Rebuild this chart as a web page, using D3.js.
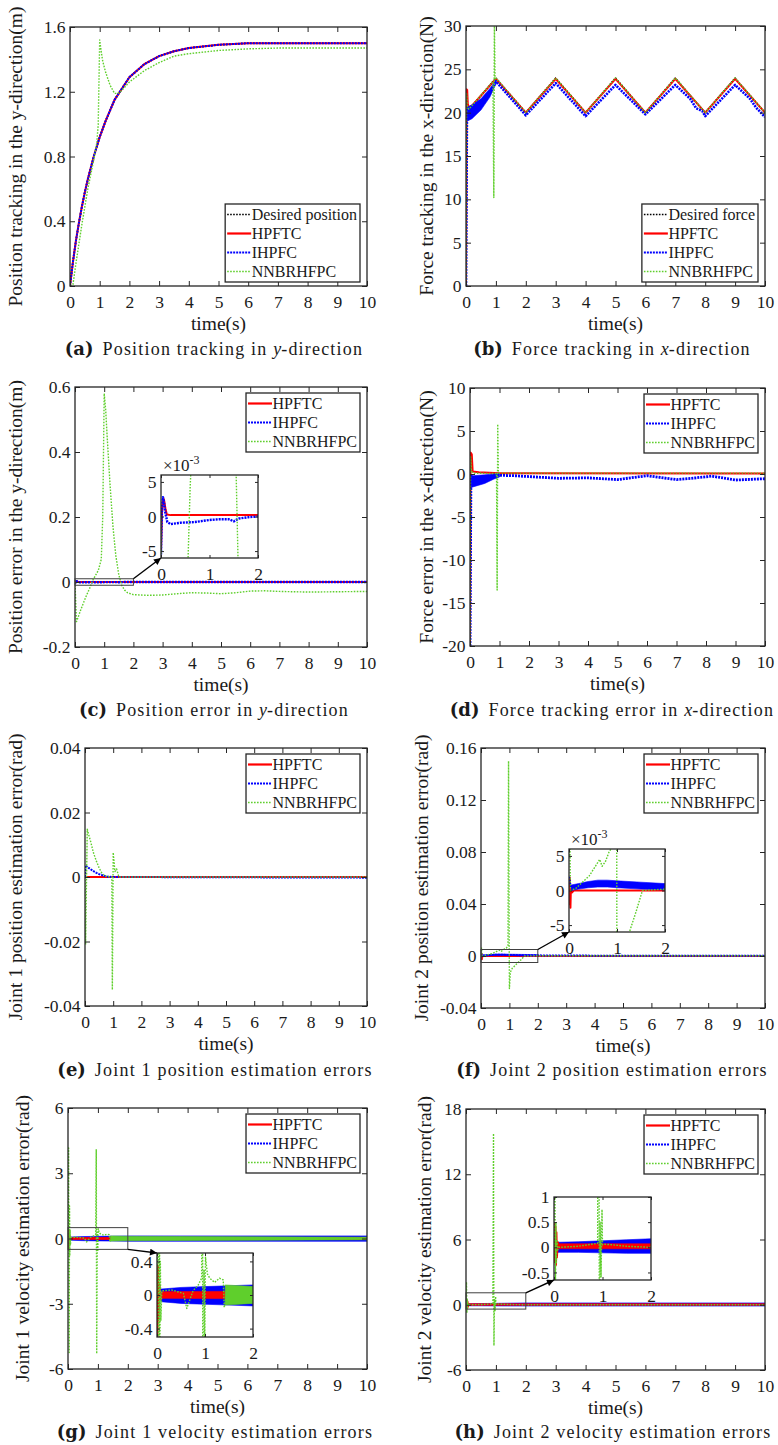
<!DOCTYPE html>
<html>
<head>
<meta charset="utf-8">
<script src="https://cdn.jsdelivr.net/npm/d3@7/dist/d3.min.js"></script>
<style>
body { margin: 0; background: #fff; }
svg { display: block; }
</style>
</head>
<body>
<svg id="fig" width="778" height="1445"></svg>
<script>
// ---- tick values / labels ----
var xTicks = [0,1,2,3,4,5,6,7,8,9,10];
var insetXTicks = [0,1,2];
var aYTicks = [0,0.4,0.8,1.2,1.6];
var bYTicks = [0,5,10,15,20,25,30];
var cYTicks = [-0.2,0,0.2,0.4,0.6];
var dYTicks = [-20,-15,-10,-5,0,5,10];
var eYTicks = [-0.04,-0.02,0,0.02,0.04];
var fYTicks = [-0.04,0,0.04,0.08,0.12,0.16];
var gYTicks = [-6,-3,0,3,6];
var hYTicks = [-6,0,6,12,18];
var milliTicks = [-0.005,0,0.005];
var milliLabels = ['-5','0','5'];
var gInsetTicks = [-0.4,0,0.4];
var hInsetTicks = [-0.5,0,0.5,1];

var legend4a = ['Desired position','HPFTC','IHPFC','NNBRHFPC'];
var legend4b = ['Desired force','HPFTC','IHPFC','NNBRHFPC'];
var legend3 = ['HPFTC','IHPFC','NNBRHFPC'];

// ---- (a) position tracking ----
var aT = [0,0.1,0.2,0.3,0.4,0.5,0.6,0.8,1,1.2,1.5,2,2.5,3,3.5,4,5,6,7,8,9,10];
var aDesired = [0,0.15,0.28,0.39,0.49,0.58,0.66,0.8,0.92,1.02,1.15,1.29,1.37,1.42,1.45,1.47,1.49,1.5,1.5,1.5,1.5,1.5];
var aHPFTC = [0,0.15,0.28,0.39,0.49,0.58,0.66,0.8,0.92,1.02,1.15,1.29,1.37,1.42,1.45,1.47,1.49,1.5,1.5,1.5,1.5,1.5];
var aIHPFC = [0,0.15,0.28,0.39,0.49,0.58,0.66,0.8,0.92,1.02,1.15,1.29,1.37,1.42,1.45,1.47,1.49,1.5,1.5,1.5,1.5,1.5];
var aNNT = [0,0.1,0.2,0.4,0.6,0.8,0.9,0.95,1,1.05,1.1,1.2,1.35,1.5,1.6,1.7,2,2.5,3,3.5,4,5,6,7,8,9,10];
var aNN = [0,0.01,0.14,0.38,0.6,0.78,0.88,1.0,1.52,1.45,1.39,1.32,1.24,1.19,1.19,1.2,1.26,1.33,1.38,1.42,1.435,1.455,1.465,1.47,1.47,1.47,1.47];

// ---- (b) force tracking ----
var bDesT = [0,0.01,1,2,3,4,5,6,7,8,9,10];
var bDes = [0,20,24,20,24,20,24,20,24,20,24,20];
var bRedT = [0,0.02,0.04,0.06,0.1,0.2,1,2,3,4,5,6,7,8,9,10];
var bRed = [0,22.7,22.6,21,20.6,20.8,23.9,20,23.9,20,23.9,20,23.9,20,23.9,20];
var bBlueT = [0,0.03,0.1,0.3,0.5,0.8,1,2,3,4,5,6,7,7.5,7.7,7.9,8,9,9.5,9.7,10];
var bBlue = [0,19.2,19.4,20.1,20.9,22.3,23.6,19.7,23.4,19.6,23.2,19.8,23.2,21.6,20.5,20.2,19.6,23.2,21.6,20.6,19.5];
var bBandT = [0.03,0.2,0.5,0.8,1];
var bBandHi = [20.6,20.9,21.6,22.8,23.7];
var bBandLo = [19,19.3,20.3,21.8,23.3];
var bNNT = [0,0.02,0.05,0.1,0.9,0.93,0.95,0.97,1,2,3,4,5,6,7,8,9,10];
var bNN = [0,22.2,20.6,20.4,23.6,10.2,30,23.8,24,20,24,20,24,20,24,20,24,20];

// ---- (c) position error ----
var cRedT = [0,0.02,0.04,0.06,0.09,0.12,0.2,2,10];
var cRed = [-0.005,0.0005,0.0022,0.0025,0.0012,0.0003,0.0002,0.0002,0.0002];
var cBlueT = [0,0.02,0.04,0.06,0.09,0.13,0.2,0.4,0.7,1,1.2,1.4,1.5,1.6,1.8,2,10];
var cBlue = [-0.0055,0.001,0.0028,0.0022,0.0005,-0.0008,-0.0011,-0.0009,-0.0008,-0.0005,-0.0004,-0.0004,-0.0007,-0.0003,-0.0001,0,0];
var cNNT = [0,0.05,0.1,0.2,0.3,0.4,0.5,0.6,0.7,0.8,0.9,0.95,1,1.05,1.1,1.2,1.3,1.4,1.5,1.6,1.7,1.8,2,2.5,3,3.5,4,4.5,5,5.5,6,6.5,7,8,9,10];
var cNN = [0,-0.122,-0.11,-0.085,-0.062,-0.04,-0.02,0.004,0.02,0.036,0.07,0.2,0.58,0.53,0.45,0.3,0.17,0.08,0.022,-0.01,-0.025,-0.033,-0.039,-0.041,-0.04,-0.036,-0.033,-0.034,-0.036,-0.033,-0.028,-0.027,-0.029,-0.031,-0.03,-0.029];

// ---- (d) force error ----
var dRedT = [0,0.02,0.06,0.09,0.3,1,10];
var dRed = [-20,2.5,2.3,0.3,0.2,0.1,0.05];
var dBlueT = [0,0.03,0.1,0.3,0.5,0.8,1,1.5,2,3,4,5,6,7,7.5,8.2,9,10];
var dBlue = [-20,-0.8,-0.85,-0.7,-0.6,-0.3,-0.15,-0.2,-0.3,-0.5,-0.45,-0.65,-0.2,-0.65,-0.5,-0.25,-0.7,-0.55];
var dBandT = [0.03,0.1,0.3,0.5,0.8,1];
var dBandHi = [0,-0.2,-0.15,-0.1,0,0.05];
var dBandLo = [-1.6,-1.5,-1.3,-1.1,-0.6,-0.35];
var dNNT = [0,0.02,0.05,0.1,0.9,0.92,0.94,0.96,1,10];
var dNN = [-20,2,0.3,0.1,0.05,-13.5,5.8,0.2,0.1,0.1];

// ---- (e) joint 1 position estimation ----
var eRedT = [0,10];
var eRed = [0,0];
var eBlueT = [0,0.02,0.1,0.2,0.3,0.4,0.5,0.6,0.7,0.8,1,10];
var eBlue = [0,0.0036,0.003,0.0024,0.0018,0.0013,0.0009,0.0006,0.0003,0.0001,0,-0.0002];
var eNNT = [0,0.02,0.08,0.15,0.2,0.3,0.4,0.5,0.6,0.7,0.95,0.97,1,1.06,1.12,1.2,10];
var eNN = [0,-0.021,0.0148,0.0125,0.011,0.0075,0.005,0.0028,0.0012,0.0003,0,-0.035,0.0076,0.0017,0.0025,0,0];

// ---- (f) joint 2 position estimation ----
var fRedT = [0,0.01,0.02,0.03,0.04,0.06,0.1,10];
var fRed = [0,-0.002,0.0018,-0.0025,0.0005,-0.0003,0,0];
var fBlueT = [0,0.03,0.06,0.1,0.2,0.3,0.4,0.5,0.6,0.8,1,1.2,1.5,2,3,10];
var fBlue = [0.002,0.0008,0.0003,0.0003,0.0005,0.0007,0.0008,0.0009,0.001,0.0009,0.0008,0.0007,0.0006,0.0005,0.0003,0.0002];
var fBandT = [0.05,0.2,0.4,0.6,0.8,1,1.5,2];
var fBandHi = [0.0008,0.001,0.0013,0.0015,0.0015,0.0014,0.0012,0.001];
var fBandLo = [0,0.0002,0.0004,0.0005,0.0005,0.0004,0.0002,0.0001];
var fNNT = [0,0.02,0.03,0.14,0.25,0.42,0.55,0.64,0.69,0.76,0.83,0.9,0.95,0.97,1,1.03,1.1,1.25,1.4,1.53,2,10];
var fNN = [0.005,0.006,0,0.0003,0.001,0.0021,0.0035,0.0045,0.0035,0.0042,0.0055,0.0063,0.008,0.15,-0.025,-0.0126,-0.0095,-0.0062,-0.003,0,0.0002,0.0002];

// ---- (g) joint 1 velocity estimation ----
var gRedT = [0,0.01,0.02,0.03,0.05,0.08,0.1,10];
var gRed = [0,-0.5,0.35,-0.3,0.12,-0.05,0,0];
var gRedBandT = [0.1,2,10];
var gRedHi = [0.04,0.045,0.045];
var gRedLo = [-0.04,-0.045,-0.045];
var gBlueBandT = [0.08,0.5,1,1.5,2,10];
var gBlueHi = [0.07,0.09,0.1,0.11,0.12,0.12];
var gBlueLo = [-0.08,-0.1,-0.11,-0.12,-0.13,-0.13];
var gNNT = [0,0.02,0.04,0.05,0.06,0.07,0.08,0.1,0.3,0.55,0.62,0.75,0.86,0.93,0.945,0.96,0.98,0.995,1.01,1.05,1.1,1.2,1.3,1.38,1.4,1.45,2,10];
var gNN = [0,4.16,-5.24,1.5,-0.8,0.4,-0.3,0.05,0.06,0.02,-0.16,0.05,0.12,0.2,4.1,-5.3,0.3,-0.6,0.45,0.25,0.2,0.15,0.2,0.18,-0.15,0,0,0];
var gNNBandT = [1.42,2,10];
var gNNHi = [0.12,0.1,0.06];
var gNNLo = [-0.12,-0.1,-0.06];

// ---- (h) joint 2 velocity estimation ----
var hRedT = [0,0.01,0.02,0.03,0.04,0.05,0.06,0.08,0.1,10];
var hRed = [0,0.47,-0.3,0.42,-0.35,0.3,-0.2,0.1,0.02,0.02];
var hRedBandT = [0.1,2,10];
var hRedHi = [0.07,0.07,0.07];
var hRedLo = [-0.03,-0.03,-0.03];
var hBlueBandT = [0.08,0.5,1,1.5,2,10];
var hBlueHi = [0.1,0.11,0.13,0.15,0.17,0.17];
var hBlueLo = [-0.1,-0.1,-0.11,-0.12,-0.12,-0.12];
var hNNT = [0,0.015,0.03,0.04,0.05,0.06,0.08,0.1,0.5,0.9,0.92,0.935,0.95,0.97,0.99,1,1.05,1.2,1.5,2,10];
var hNN = [0,2.1,-0.75,0.5,-0.3,0.15,-0.05,0,0.02,0.08,15.75,-3.76,0.5,-0.6,0.75,0.05,0.06,0.05,0.02,0,0];

var kinds = {
  des:   {stroke: '#000000', dash: '1.6,1.4', width: 1.5},
  red:   {stroke: '#ff0000', dash: null, width: 2},
  blue:  {stroke: '#0000ff', dash: '2,1', width: 2},
  green: {stroke: '#5fcf2c', dash: '1.6,1.4', width: 1.4}
};

var SERIF = '"Liberation Serif", "Times New Roman", serif';
var INK = '#262626';

var panels = [
  {id: 'a', box: [70,27,367,286], yDom: [0,1.6], yTicks: aYTicks,
   ylab: 'Position tracking in the y-direction(m)', ylabX: 15,
   legend: legend4a, legKinds: ['des','red','blue','green'], legBottom: true,
   cap: ['(a)','Position tracking in ','y','-direction'], capX: 214, capY: 355,
   items: [{k:'des',t:aT,y:aDesired},{k:'red',t:aT,y:aHPFTC},{k:'blue',t:aT,y:aIHPFC},{k:'green',t:aNNT,y:aNN}]},
  {id: 'b', box: [466,26,765,286], yDom: [0,30], yTicks: bYTicks,
   ylab: 'Force tracking in the x-direction(N)', ylabX: 426,
   legend: legend4b, legKinds: ['des','red','blue','green'], legBottom: true,
   cap: ['(b)','Force tracking in ','x','-direction'], capX: 612, capY: 355,
   items: [{k:'des',t:bDesT,y:bDes},{k:'red',t:bRedT,y:bRed},{k:'blue',t:bBandT,hi:bBandHi,lo:bBandLo},
           {k:'blue',t:bBlueT,y:bBlue,w:2.6},{k:'green',t:bNNT,y:bNN}]},
  {id: 'c', box: [75,387,367,647], yDom: [-0.2,0.6], yTicks: cYTicks,
   ylab: 'Position error in the y-direction(m)', ylabX: 15,
   legend: legend3, legKinds: ['red','blue','green'],
   cap: ['(c)','Position error in ','y','-direction'], capX: 214, capY: 716,
   items: [{k:'red',t:cRedT,y:cRed},{k:'blue',t:cBlueT,y:cBlue,w:2.4},{k:'green',t:cNNT,y:cNN}],
   inset: {box: [161,475,258,558], yDom: [-0.006,0.006], yTicks: milliTicks, yLabels: milliLabels,
           rectY: [-0.01,0.01], from: 'top', exp: true}},
  {id: 'd', box: [470,388,765,646], yDom: [-20,10], yTicks: dYTicks,
   ylab: 'Force error in the x-direction(N)', ylabX: 426,
   legend: legend3, legKinds: ['red','blue','green'],
   cap: ['(d)','Force tracking error in ','x','-direction'], capX: 612, capY: 716,
   items: [{k:'red',t:dRedT,y:dRed},{k:'blue',t:dBandT,hi:dBandHi,lo:dBandLo},{k:'blue',t:dBlueT,y:dBlue,w:2.8},{k:'green',t:dNNT,y:dNN}]},
  {id: 'e', box: [85,748,367,1006], yDom: [-0.04,0.04], yTicks: eYTicks,
   ylab: 'Joint 1 position estimation error(rad)', ylabX: 15,
   legend: legend3, legKinds: ['red','blue','green'],
   cap: ['(e)','Joint 1 position estimation errors'], capX: 215, capY: 1076,
   items: [{k:'red',t:eRedT,y:eRed},{k:'blue',t:eBlueT,y:eBlue},{k:'green',t:eNNT,y:eNN}]},
  {id: 'f', box: [481,748,765,1008], yDom: [-0.04,0.16], yTicks: fYTicks,
   ylab: 'Joint 2 position estimation error(rad)', ylabX: 421,
   legend: legend3, legKinds: ['red','blue','green'],
   cap: ['(f)','Joint 2 position estimation errors'], capX: 612, capY: 1076,
   items: [{k:'red',t:fRedT,y:fRed},{k:'blue',t:fBandT,hi:fBandHi,lo:fBandLo},{k:'blue',t:fBlueT,y:fBlue},{k:'green',t:fNNT,y:fNN}],
   inset: {box: [569,849,665,932], yDom: [-0.006,0.006], yTicks: milliTicks, yLabels: milliLabels,
           rectY: [-0.005,0.005], from: 'top', exp: true}},
  {id: 'g', box: [68,1108,367,1369], yDom: [-6,6], yTicks: gYTicks,
   ylab: 'Joint 1 velocity estimation error(rad)', ylabX: 22,
   legend: legend3, legKinds: ['red','blue','green'],
   cap: ['(g)','Joint 1 velocity estimation errors'], capX: 215, capY: 1438,
   items: [{k:'blue',t:gBlueBandT,hi:gBlueHi,lo:gBlueLo},{k:'red',t:gRedBandT,hi:gRedHi,lo:gRedLo},{k:'red',t:gRedT,y:gRed},
           {k:'green',t:gNNT,y:gNN},{k:'green',t:gNNBandT,hi:gNNHi,lo:gNNLo}],
   inset: {box: [157,1253,253,1337], yDom: [-0.5,0.5], yTicks: gInsetTicks,
           rectY: [-0.5,0.5], from: 'bottom'}},
  {id: 'h', box: [466,1109,765,1370], yDom: [-6,18], yTicks: hYTicks,
   ylab: 'Joint 2 velocity estimation error(rad)', ylabX: 424,
   legend: legend3, legKinds: ['red','blue','green'],
   cap: ['(h)','Joint 2 velocity estimation errors'], capX: 613, capY: 1438,
   items: [{k:'blue',t:hBlueBandT,hi:hBlueHi,lo:hBlueLo},{k:'red',t:hRedBandT,hi:hRedHi,lo:hRedLo},{k:'red',t:hRedT,y:hRed},{k:'green',t:hNNT,y:hNN}],
   inset: {box: [554,1197,651,1280], yDom: [-0.65,1], yTicks: hInsetTicks,
           rectY: [-0.4,1.1], from: 'top'}}
];

var svg = d3.select('#fig');
var defs = svg.append('defs');
defs.append('marker').attr('id', 'arrowhead')
  .attr('viewBox', '0 0 10 10').attr('refX', 10).attr('refY', 5)
  .attr('markerWidth', 9).attr('markerHeight', 7)
  .attr('markerUnits', 'userSpaceOnUse').attr('orient', 'auto')
  .append('path').attr('d', 'M0,0L10,5L0,10z').attr('fill', '#000');

function drawItems(g, items, x, y) {
  items.forEach(function(it) {
    var st = kinds[it.k];
    if (it.hi) {
      var area = d3.area()
        .x(function(d) { return x(d[0]); })
        .y0(function(d) { return y(d[2]); })
        .y1(function(d) { return y(d[1]); });
      g.append('path').attr('d', area(d3.zip(it.t, it.hi, it.lo)))
        .attr('fill', st.stroke).attr('stroke', st.stroke).attr('stroke-width', 0.6);
    } else {
      var line = d3.line()
        .x(function(d) { return x(d[0]); })
        .y(function(d) { return y(d[1]); });
      g.append('path').attr('d', line(d3.zip(it.t, it.y)))
        .attr('fill', 'none')
        .attr('stroke', st.stroke)
        .attr('stroke-width', it.w || st.width)
        .attr('stroke-dasharray', st.dash)
        .attr('stroke-linejoin', 'round');
    }
  });
}

function styleAxis(sel, size) {
  sel.select('.domain').remove();
  sel.selectAll('line').attr('stroke', INK).attr('stroke-width', 1);
  sel.selectAll('text').attr('font-family', SERIF).attr('font-size', size).attr('fill', '#1a1a1a');
}

function frame(g, x, y, box, xt, yt, ylabels, tick, fontSize) {
  var fmt = function(v) { return String(v); };
  var yfmt = ylabels ? function(v, i) { return ylabels[i]; } : fmt;
  g.append('g').attr('transform', 'translate(0,' + box[3] + ')')
    .call(d3.axisBottom(x).tickValues(xt).tickSize(-tick).tickSizeOuter(0).tickPadding(9.5).tickFormat(fmt))
    .call(styleAxis, fontSize);
  g.append('g').attr('transform', 'translate(0,' + box[1] + ')')
    .call(d3.axisTop(x).tickValues(xt).tickSize(-tick).tickSizeOuter(0).tickFormat(''))
    .call(styleAxis, fontSize);
  g.append('g').attr('transform', 'translate(' + box[0] + ',0)')
    .call(d3.axisLeft(y).tickValues(yt).tickSize(-tick).tickSizeOuter(0).tickPadding(4.5).tickFormat(yfmt))
    .call(styleAxis, fontSize);
  g.append('g').attr('transform', 'translate(' + box[2] + ',0)')
    .call(d3.axisRight(y).tickValues(yt).tickSize(-tick).tickSizeOuter(0).tickFormat(''))
    .call(styleAxis, fontSize);
  g.append('rect')
    .attr('x', box[0]).attr('y', box[1])
    .attr('width', box[2] - box[0]).attr('height', box[3] - box[1])
    .attr('fill', 'none').attr('stroke', INK).attr('stroke-width', 1.3);
}

function drawLegend(p) {
  var n = p.legend.length, rowH = 19, pad = 10.5;
  var h = pad * 2 + (n - 1) * rowH;
  var lg = svg.append('g');
  var box = lg.append('rect').attr('fill', '#fff').attr('stroke', INK).attr('stroke-width', 1.3);
  var maxW = 0;
  p.legend.forEach(function(name, i) {
    var st = kinds[p.legKinds[i]];
    var cy = pad + i * rowH;
    lg.append('line').attr('x1', 2).attr('x2', 26).attr('y1', cy).attr('y2', cy)
      .attr('stroke', st.stroke).attr('stroke-width', st.width + 0.2)
      .attr('stroke-dasharray', st.dash);
    var t = lg.append('text').attr('x', 26.5).attr('y', cy).attr('dy', '0.35em')
      .attr('font-family', SERIF).attr('font-size', 16).attr('fill', '#1a1a1a')
      .text(name);
    maxW = Math.max(maxW, t.node().getComputedTextLength());
  });
  var w = 26.5 + maxW + 3;
  box.attr('width', w).attr('height', h);
  var left = p.box[2] - 7 - w;
  var top = p.legBottom ? p.box[3] - 4 - h : p.box[1] + 6;
  lg.attr('transform', 'translate(' + left + ',' + top + ')');
}

function drawInset(p, x, y) {
  var ins = p.inset, b = ins.box;
  var xi = d3.scaleLinear().domain([0, 2]).range([b[0], b[2]]);
  var yi = d3.scaleLinear().domain(ins.yDom).range([b[3], b[1]]);

  // zoom rectangle in the main axes and the arrow
  var r0 = x(0), r1 = x(2), rt = y(ins.rectY[1]), rb = y(ins.rectY[0]);
  svg.append('rect').attr('x', r0).attr('y', rt).attr('width', r1 - r0).attr('height', rb - rt)
    .attr('fill', 'none').attr('stroke', '#404040').attr('stroke-width', 1);
  var ax0, ay0, ax1, ay1;
  if (ins.from === 'top') { ax0 = r1; ay0 = rt; ax1 = b[0]; ay1 = b[3]; }
  else { ax0 = r1; ay0 = rb; ax1 = b[0]; ay1 = b[1]; }
  svg.append('line').attr('x1', ax0).attr('y1', ay0).attr('x2', ax1).attr('y2', ay1)
    .attr('stroke', '#000').attr('stroke-width', 1.4).attr('marker-end', 'url(#arrowhead)');

  var g = svg.append('g');
  g.append('rect').attr('x', b[0]).attr('y', b[1]).attr('width', b[2] - b[0]).attr('height', b[3] - b[1])
    .attr('fill', '#fff');
  defs.append('clipPath').attr('id', 'clip-in-' + p.id).append('rect')
    .attr('x', b[0]).attr('y', b[1]).attr('width', b[2] - b[0]).attr('height', b[3] - b[1]);
  var plot = g.append('g').attr('clip-path', 'url(#clip-in-' + p.id + ')');
  drawItems(plot, p.items, xi, yi);
  frame(g, xi, yi, b, insetXTicks, ins.yTicks, ins.yLabels, 3, 17.5);

  if (ins.exp) {
    var t = g.append('text').attr('x', b[0] + 2).attr('y', b[1] - 4)
      .attr('font-family', SERIF).attr('font-size', 17).attr('fill', '#1a1a1a');
    t.append('tspan').text('\u00d710');
    t.append('tspan').attr('dy', -7).attr('font-size', 12).text('-3');
  }
}

panels.forEach(function(p) {
  var b = p.box;
  var x = d3.scaleLinear().domain([0, 10]).range([b[0], b[2]]);
  var y = d3.scaleLinear().domain(p.yDom).range([b[3], b[1]]);

  defs.append('clipPath').attr('id', 'clip-' + p.id).append('rect')
    .attr('x', b[0]).attr('y', b[1]).attr('width', b[2] - b[0]).attr('height', b[3] - b[1]);
  var g = svg.append('g');
  var plot = g.append('g').attr('clip-path', 'url(#clip-' + p.id + ')');
  drawItems(plot, p.items, x, y);
  frame(g, x, y, b, xTicks, p.yTicks, null, 5, 17.5);

  // axis titles
  g.append('text')
    .attr('x', (b[0] + b[2]) / 2).attr('y', b[3] + 44)
    .attr('text-anchor', 'middle')
    .attr('font-family', SERIF).attr('font-size', 19.5).attr('fill', '#1a1a1a')
    .text('time(s)');
  var cy = (b[1] + b[3]) / 2;
  g.append('text')
    .attr('transform', 'translate(' + p.ylabX + ',' + cy + ') rotate(-90)')
    .attr('text-anchor', 'middle').attr('dominant-baseline', 'central')
    .attr('font-family', SERIF).attr('font-size', 19.5).attr('fill', '#1a1a1a')
    .text(p.ylab);

  if (p.inset) drawInset(p, x, y);
  drawLegend(p);

  // sub-figure caption
  var cap = svg.append('text')
    .attr('x', p.capX).attr('y', p.capY)
    .attr('text-anchor', 'middle').attr('fill', '#1a1a1a');
  cap.append('tspan').attr('font-family', '"DejaVu Serif", serif').attr('font-weight', 'bold')
    .attr('font-size', 18).text(p.cap[0]);
  cap.append('tspan').attr('dx', 9).attr('font-family', SERIF).attr('font-size', 18)
    .attr('letter-spacing', 1.2).text(p.cap[1]);
  if (p.cap.length > 2) {
    cap.append('tspan').attr('font-family', SERIF).attr('font-size', 18).attr('font-style', 'italic')
      .text(p.cap[2]);
    cap.append('tspan').attr('font-family', SERIF).attr('font-size', 18)
      .attr('letter-spacing', 1.2).text(p.cap[3]);
  }
});
</script>
</body>
</html>
